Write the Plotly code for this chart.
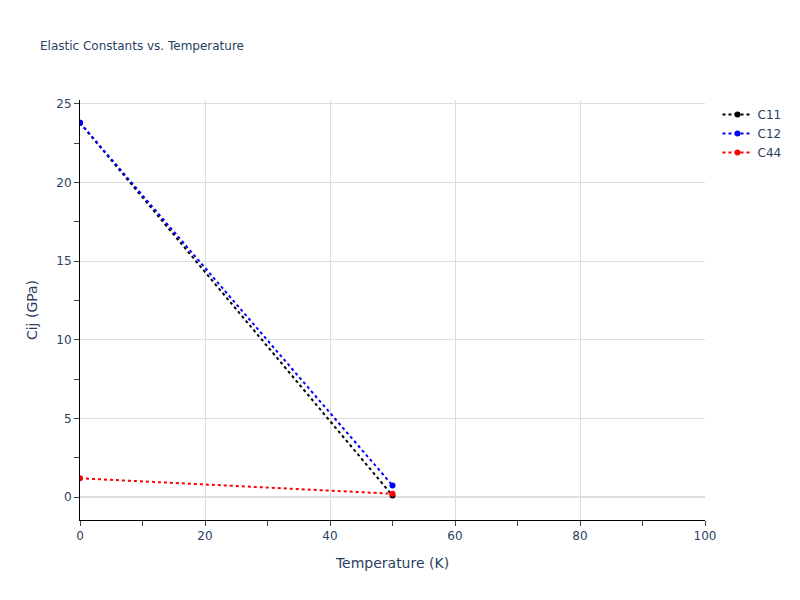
import plotly.graph_objects as go

temperature = [0, 50]
c11 = [23.8, 0.1]
c12 = [23.8, 0.75]
c44 = [1.2, 0.22]

series = [("C11", c11, "black"), ("C12", c12, "blue"), ("C44", c44, "red")]

fig = go.Figure()
for name, vals, color in series:
    fig.add_trace(go.Scatter(x=temperature, y=vals, name=name, mode="lines+markers",
                             line=dict(color=color, dash="dot", width=2),
                             marker=dict(color=color, size=6)))

fig.update_layout(
    width=800, height=600,
    font=dict(family="DejaVu Sans"),
    title=dict(text="Elastic Constants vs. Temperature", font=dict(size=12), x=0.05, y=0.93),
    plot_bgcolor="white", paper_bgcolor="white",
    margin=dict(l=80, r=95, t=100, b=80),
    xaxis=dict(title="Temperature (K)", range=[0, 100], showline=True, linecolor="black",
               ticks="outside", ticklen=5, gridcolor="#dddddd", zeroline=False,
               minor=dict(ticks="outside", ticklen=5, dtick=10, showgrid=False)),
    yaxis=dict(title="Cij (GPa)", range=[-1.45, 25.25], showline=True, linecolor="black",
               ticks="outside", ticklen=5, gridcolor="#dddddd", zeroline=True, zerolinecolor="#dddddd",
               zerolinewidth=2, dtick=5,
               minor=dict(ticks="outside", ticklen=5, dtick=2.5, showgrid=False)),
    legend=dict(x=1.02, y=1.0),
)
fig.write_html("out.html", config={"displayModeBar": False},
               post_script="document.body.style.margin='0';")
